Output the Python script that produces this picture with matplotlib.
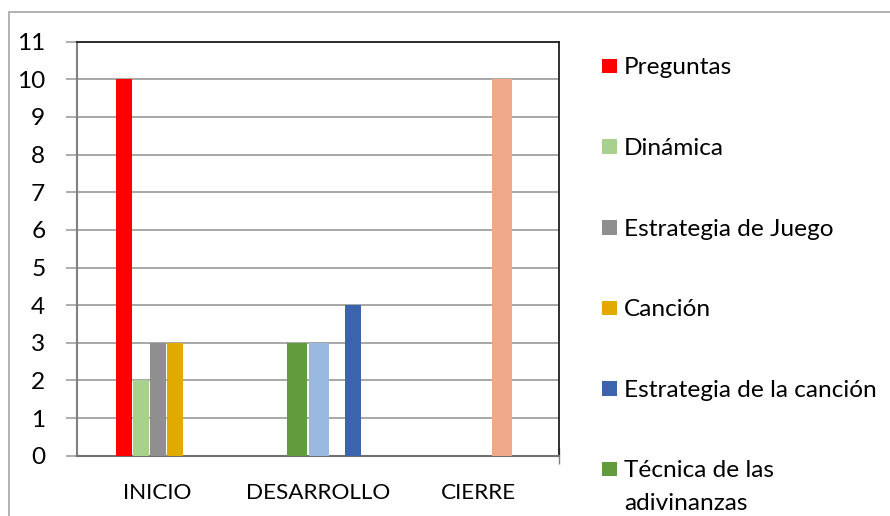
import matplotlib
matplotlib.use("Agg")
import matplotlib.pyplot as plt
from matplotlib.patches import Rectangle
import numpy as np

# ---- data ----
categories = ["INICIO", "DESARROLLO", "CIERRE"]
series_names = ["Preguntas", "Dinámica", "Estrategia de Juego", "Canción",
                "Estrategia de la canción", "Técnica de las\nadivinanzas",
                None, None]
preguntas = [10, 0, 0]
dinamica = [2, 0, 0]
estrategia_juego = [3, 0, 0]
cancion = [3, 0, 0]
estrategia_cancion = [0, 4, 0]
tecnica_adivinanzas = [0, 3, 0]
serie_azul_claro = [0, 3, 0]
serie_salmon = [0, 0, 10]
y_ticks = list(range(0, 12))

series_values = [preguntas, dinamica, estrategia_juego, cancion,
                 estrategia_cancion, tecnica_adivinanzas,
                 serie_azul_claro, serie_salmon]

# ---- styles ----
colors = ["#FF0000", "#A9D18E", "#8F8F8F", "#E2AA00",
          "#3C64AC", "#629B3D", "#9AB9E0", "#F0A88A"]
offsets = [-0.2096, -0.1037, 0.0021, 0.1079, 0.2178, -0.1307, 0.0062, 0.1411]
widths = [0.0996, 0.0996, 0.0996, 0.0996, 0.0996, 0.1245, 0.1245, 0.1245]

FONT = "Lato"
FS = 17.6

W, H = 890, 516
fig = plt.figure(figsize=(W / 100, H / 100), dpi=100)

# outer chart border (left and top visible)
fig.patches.append(Rectangle((8.5 / W, -0.1), 1.2, (H - 12) / H + 0.1,
                             transform=fig.transFigure, fill=False,
                             edgecolor="#A6A6A6", linewidth=1.2))

ax = fig.add_axes([77.3 / W, (H - 455.7) / H, 482 / W, 414 / H])
x = np.arange(len(categories)) + 0.5
for vals, c, off, w in zip(series_values, colors, offsets, widths):
    ax.bar(x + off, vals, width=w, color=c, zorder=3, linewidth=0)

ax.set_xlim(0, 3)
ax.set_ylim(0, 11)
ax.set_yticks(y_ticks)
ax.set_yticklabels([str(v) for v in y_ticks], fontfamily=FONT, fontsize=FS)
ax.yaxis.grid(True, color="#A0A0A0", linewidth=1.3, zorder=1)
ax.tick_params(axis="y", length=8, width=1.2, color="#A0A0A0", pad=15)

ax.set_xticks(x)
ax.set_xticklabels(categories, fontfamily=FONT, fontsize=16.2)
ax.tick_params(axis="x", length=0, pad=20)
ax.set_xticks([1.5, 3.0], minor=True)
ax.tick_params(axis="x", which="minor", direction="inout", length=12,
               width=1.0, color="#808080")

for side in ["top", "right"]:
    ax.spines[side].set_color("#202020")
    ax.spines[side].set_linewidth(1.3)
ax.spines["left"].set_color("#808080")
ax.spines["left"].set_linewidth(1.5)
ax.spines["bottom"].set_color("#707070")
ax.spines["bottom"].set_linewidth(1.5)

# ---- legend (manual, clipped at bottom like the reference) ----
row0 = 66.3
row_step = 80.6
line_step = 33
for i, (name, c) in enumerate(zip(series_names, colors)):
    if name is None:
        continue
    cy = row0 + i * row_step
    fig.patches.append(Rectangle((602 / W, (H - cy - 7) / H), 14.5 / W, 14.5 / H,
                                 transform=fig.transFigure, color=c, linewidth=0))
    for k, line in enumerate(name.split("\n")):
        fig.text(624 / W, (H - cy - 8 - k * line_step) / H, line,
                 fontfamily=FONT, fontsize=FS, ha="left", va="baseline")

fig.savefig("out.png", dpi=100)
